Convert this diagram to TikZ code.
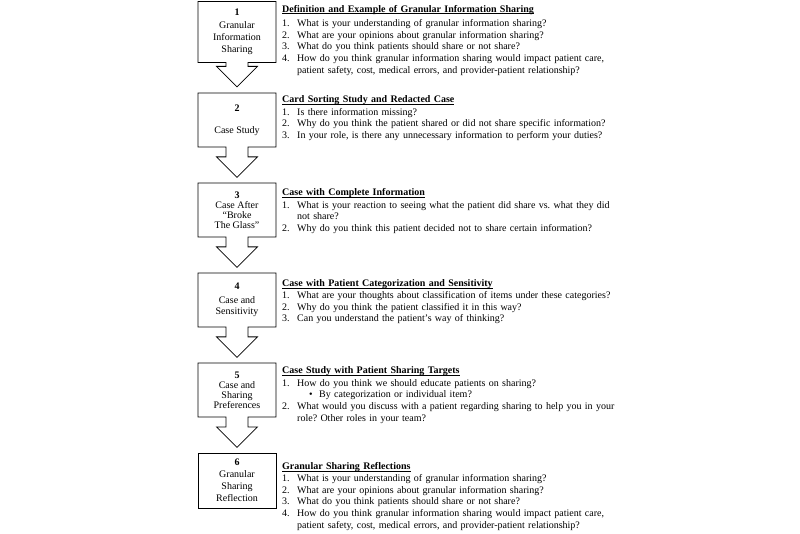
\documentclass[tikz,border=0pt]{standalone}
\usepackage{fontspec}
\setmainfont{Liberation Serif}
\usepackage{enumitem}
\usetikzlibrary{shapes.arrows}
\setlist[enumerate]{nosep,label=\arabic*.,leftmargin=15pt,labelwidth=15pt,labelsep=0pt,align=left}
\setlist[itemize]{nosep,label=\textbullet,leftmargin=22pt,labelwidth=10pt,labelsep=0pt,align=left}
\newcommand{\qhead}[2][0.8pt]{{\bfseries\setbox0\hbox{#2}\rlap{\rule[-1.6pt]{\wd0}{0.5pt}}\box0}\par\vspace{#1}}
\frenchspacing

\begin{document}
\begin{tikzpicture}[x=1pt,y=-1pt,
  stage/.style={draw,line width=0.8pt,arrow box,arrow box arrows={south:30pt},
    arrow box shaft width=22pt,arrow box head extend=9.5pt,
    minimum width=78pt,minimum height=54pt,inner sep=1pt,align=center,
    font=\fontsize{10}{10}\selectfont},
  laststage/.style={draw,line width=0.8pt,rectangle,
    minimum width=78pt,minimum height=55pt,inner sep=1pt,align=center,
    font=\fontsize{10}{12}\selectfont},
  qs/.style={anchor=north west,inner sep=0pt,text width=360pt,
    font=\fontsize{10}{11.7}\selectfont}]
  \useasboundingbox (0,0) rectangle (800,534);

  % stages
  \node[stage,minimum height=61pt,arrow box arrows={south:24pt},
    font=\fontsize{10}{12.3}\selectfont] (s1) at (237,32)
    {\textbf{1}\\Granular\\Information\\Sharing};
  \node[stage] (s2) at (237,120) {\textbf{2}\\[12pt]Case Study};
  \node[stage] (s3) at (237,210) {\textbf{3}\\Case After\\“Broke\\The Glass”};
  \node[stage,font=\fontsize{10}{11}\selectfont] (s4) at (237,300) {\textbf{4}\\[3pt]Case and\\Sensitivity};
  \node[stage] (s5) at (237,390) {\textbf{5}\\Case and\\Sharing\\Preferences};
  \node[laststage] (s6) at (237,480.5) {\textbf{6}\\Granular\\Sharing\\Reflection};

  % questions
  \node[qs] (q1) at (282,5) {\qhead[2.5pt]{Definition and Example of Granular Information Sharing}
    \begin{enumerate}
      \item What is your understanding of granular information sharing?
      \item What are your opinions about granular information sharing?
      \item What do you think patients should share or not share?
      \item How do you think granular information sharing would impact patient care,\newline
        patient safety, cost, medical errors, and provider-patient relationship?
    \end{enumerate}};
  \node[qs] (q2) at (282,95.5) {\qhead{Card Sorting Study and Redacted Case}
    \begin{enumerate}
      \item Is there information missing?
      \item Why do you think the patient shared or did not share specific information?
      \item In your role, is there any unnecessary information to perform your duties?
    \end{enumerate}};
  \node[qs] (q3) at (282,188.5) {\qhead{Case with Complete Information}
    \begin{enumerate}
      \item What is your reaction to seeing what the patient did share vs. what they did\newline
        not share?
      \item Why do you think this patient decided not to share certain information?
    \end{enumerate}};
  \node[qs] (q4) at (282,279.5) {\qhead[0pt]{Case with Patient Categorization and Sensitivity}
    \begin{enumerate}
      \item What are your thoughts about classification of items under these categories?
      \item Why do you think the patient classified it in this way?
      \item Can you understand the patient’s way of thinking?
    \end{enumerate}};
  \node[qs] (q5) at (282,366.5) {\qhead{Case Study with Patient Sharing Targets}
    \begin{enumerate}
      \item How do you think we should educate patients on sharing?
        \begin{itemize}
          \item By categorization or individual item?
        \end{itemize}
      \item What would you discuss with a patient regarding sharing to help you in your\newline
        role? Other roles in your team?
    \end{enumerate}};
  \node[qs] (q6) at (282,462.5) {\qhead[0pt]{Granular Sharing Reflections}
    \begin{enumerate}
      \item What is your understanding of granular information sharing?
      \item What are your opinions about granular information sharing?
      \item What do you think patients should share or not share?
      \item How do you think granular information sharing would impact patient care,\newline
        patient safety, cost, medical errors, and provider-patient relationship?
    \end{enumerate}};
\end{tikzpicture}
\end{document}
